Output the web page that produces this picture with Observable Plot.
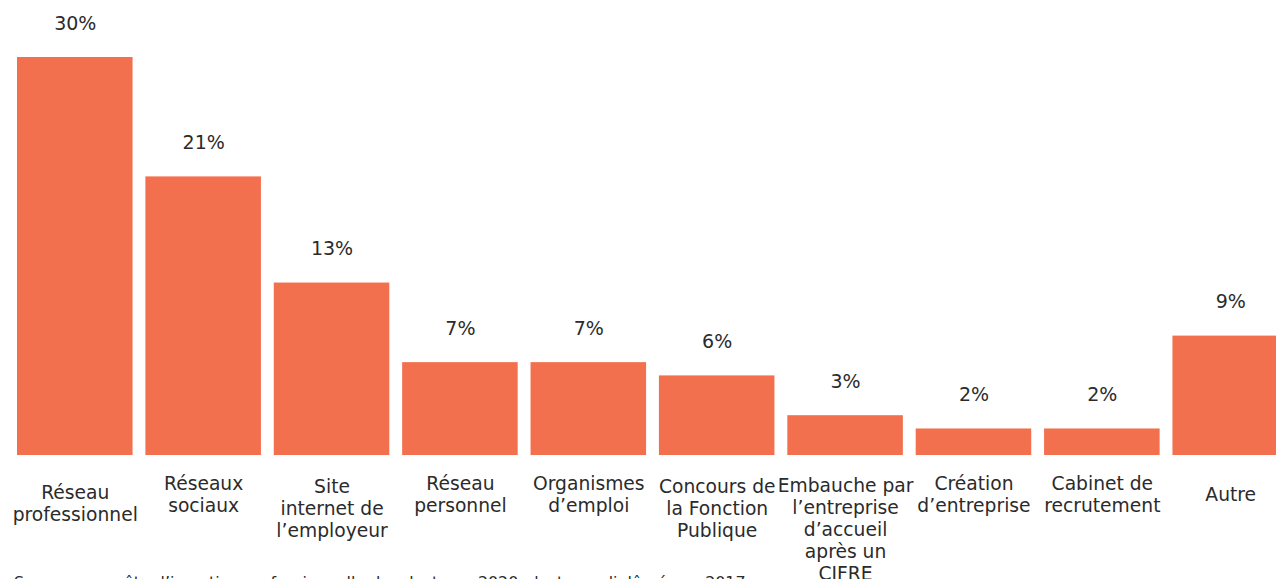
<!DOCTYPE html>
<html>
<head>
<meta charset="utf-8">
<script src="https://cdn.jsdelivr.net/npm/d3@7"></script>
<script src="https://cdn.jsdelivr.net/npm/@observablehq/plot@0.6"></script>
<style>
  html, body { margin: 0; padding: 0; background: #fff; overflow: hidden; }
  #chart svg { overflow: visible; max-width: none; }
  #caption { font-family: "DejaVu Sans", sans-serif; font-size: 15.9px; color: #2b2b2b; margin: 0; padding: 3px 0 0 14px; line-height: 18px; white-space: nowrap; }
</style>
</head>
<body>
<div id="chart"></div>
<div id="caption">Source : enquête d’insertion professionnelle des docteurs 2020, docteurs diplômés en 2017</div>
<script>
const categories = [
  "Réseau\nprofessionnel",
  "Réseaux\nsociaux",
  "Site\ninternet de\nl’employeur",
  "Réseau\npersonnel",
  "Organismes\nd’emploi",
  "Concours de\nla Fonction\nPublique",
  "Embauche par\nl’entreprise\nd’accueil\naprès un\nCIFRE",
  "Création\nd’entreprise",
  "Cabinet de\nrecrutement",
  "Autre"
];
const values = [30, 21, 13, 7, 7, 6, 3, 2, 2, 9];
const valueLabels = ["30%", "21%", "13%", "7%", "7%", "6%", "3%", "2%", "2%", "9%"];

const data = categories.map((c, i) => ({cat: c, value: values[i], label: valueLabels[i]}));

// vertical offset of each category label block below the baseline
function labelOffset(d) {
  const n = d.cat.split("\n").length;
  if (d.cat.startsWith("Réseau\nprof")) return 27.5;
  if (n === 1) return 29.5;
  if (n === 3) return 21.5;
  if (n > 3) return 20.5;
  return 18.5;
}
const offsets = Array.from(new Set(data.map(labelOffset)));
const labelMarks = offsets.map(off =>
  Plot.text(data.filter(d => labelOffset(d) === off), {
    x: "cat", y: 0, text: "cat", lineAnchor: "top", lineHeight: 1.18,
    dy: off, fontSize: 18.7, fill: "#2b2b2b"
  })
);

const plot = Plot.plot({
  width: 1290,
  height: 571,
  marginLeft: 17,
  marginRight: 2,
  marginTop: 57,
  marginBottom: 116,
  style: {fontFamily: "DejaVu Sans, sans-serif", background: "#fff", overflow: "visible", maxWidth: "none"},
  x: {domain: categories, paddingInner: 0.1, paddingOuter: 0, round: false, axis: null},
  y: {domain: [0, 30], axis: null},
  marks: [
    Plot.barY(data, {x: "cat", y: "value", fill: "#f3704f"}),
    Plot.text(data, {x: "cat", y: "value", text: "label", dy: -34, lineAnchor: "middle", fontSize: 19, fill: "#2b2b2b"}),
    ...labelMarks
  ]
});
document.getElementById("chart").appendChild(plot);
</script>
</body>
</html>
